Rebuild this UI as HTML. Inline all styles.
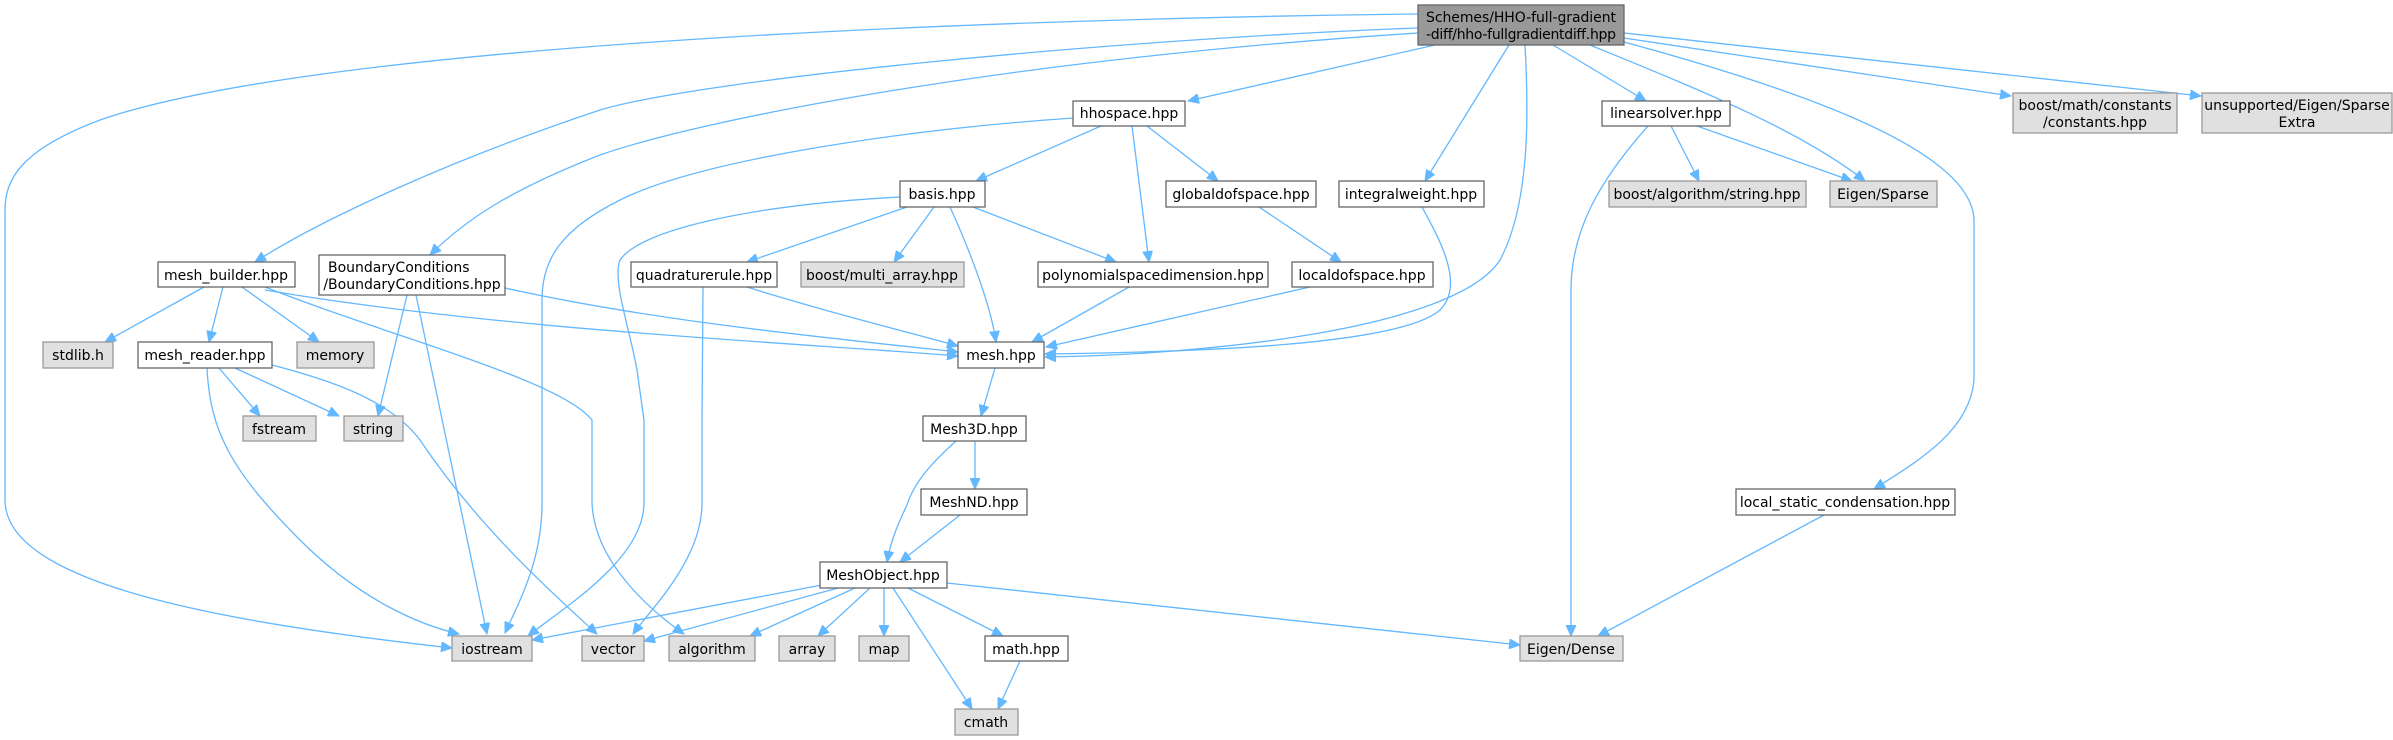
<!DOCTYPE html>
<html><head><meta charset="utf-8"><style>
html,body{margin:0;padding:0;background:#fff}
svg{display:block}
text{font-family:"DejaVu Sans","Liberation Sans",sans-serif;font-size:14px;fill:#000}
.e{fill:none;stroke:#63b8ff;stroke-width:1.3}
.w{fill:#fff;stroke:#666;stroke-width:1.3}
.g{fill:#e0e0e0;stroke:#999;stroke-width:1.3}
.r{fill:#999;stroke:#666;stroke-width:1.3}
</style></head><body>
<svg width="2393" height="740" viewBox="0 0 2393 740" xmlns="http://www.w3.org/2000/svg">
<defs><marker id="a" markerWidth="12" markerHeight="10" refX="11" refY="5" orient="auto" markerUnits="userSpaceOnUse"><path d="M0,0 L11,5 L0,10 z" fill="#63b8ff" stroke="#63b8ff"/></marker></defs>
<g class="edges" marker-end="url(#a)">
<path class="e" marker-end="url(#a)" d="M1418,14 C900,20 300,50 100,120 C20,150 5,180 5,210 L5,500 C5,580 200,620 452,648"/>
<path class="e" marker-end="url(#a)" d="M1418,28 C1100,40 700,80 600,110 C450,160 320,220 255,262"/>
<path class="e" marker-end="url(#a)" d="M1418,33 C1000,60 700,120 600,155 C510,190 465,220 430,255"/>
<path class="e" marker-end="url(#a)" d="M1073,118 C900,130 700,160 620,200 C560,230 542,260 542,300 L542,503 C542,560 520,600 505,633"/>
<path class="e" marker-end="url(#a)" d="M900,197 C750,205 640,230 620,260 C612,280 630,330 637,370 L644,420 L644,503 C644,560 560,610 528,636"/>
<path class="e" marker-end="url(#a)" d="M265,287 C400,340 560,380 592,420 L592,500 C592,560 650,610 684,634"/>
<path class="e" marker-end="url(#a)" d="M272,365 C330,380 390,400 420,440 C480,530 560,600 597,634"/>
<path class="e" marker-end="url(#a)" d="M207,368 C210,430 230,470 300,540 C360,600 420,625 459,634"/>
<path class="e" marker-end="url(#a)" d="M219,368 L260,416"/>
<path class="e" marker-end="url(#a)" d="M235,368 L339,416"/>
<path class="e" marker-end="url(#a)" d="M407,295 L378,416"/>
<path class="e" marker-end="url(#a)" d="M416,295 L487,634"/>
<path class="e" marker-end="url(#a)" d="M505,288 C650,320 800,335 958,352"/>
<path class="e" marker-end="url(#a)" d="M265,290 C500,330 800,343 958,356"/>
<path class="e" marker-end="url(#a)" d="M204,287 L105,342"/>
<path class="e" marker-end="url(#a)" d="M223,287 L209,342"/>
<path class="e" marker-end="url(#a)" d="M242,287 L319,342"/>
<path class="e" marker-end="url(#a)" d="M747,287 C820,310 900,330 958,346"/>
<path class="e" marker-end="url(#a)" d="M703,287 L702,420 L702,503 C702,560 650,610 633,634"/>
<path class="e" marker-end="url(#a)" d="M907,207 L747,262"/>
<path class="e" marker-end="url(#a)" d="M934,207 L894,262"/>
<path class="e" marker-end="url(#a)" d="M950,207 C965,240 990,300 996,342"/>
<path class="e" marker-end="url(#a)" d="M973,207 L1116,262"/>
<path class="e" marker-end="url(#a)" d="M1101,126 L976,181"/>
<path class="e" marker-end="url(#a)" d="M1132,126 L1149,262"/>
<path class="e" marker-end="url(#a)" d="M1147,126 L1218,181"/>
<path class="e" marker-end="url(#a)" d="M1259,207 L1341,262"/>
<path class="e" marker-end="url(#a)" d="M1129,287 L1032,342"/>
<path class="e" marker-end="url(#a)" d="M1310,287 L1046,347"/>
<path class="e" marker-end="url(#a)" d="M1422,207 C1440,240 1465,285 1440,310 C1400,345 1200,352 1045,354"/>
<path class="e" marker-end="url(#a)" d="M1525,45 C1528,100 1532,200 1500,260 C1455,330 1200,355 1045,357"/>
<path class="e" marker-end="url(#a)" d="M1435,45 L1188,101"/>
<path class="e" marker-end="url(#a)" d="M1509,45 L1425,181"/>
<path class="e" marker-end="url(#a)" d="M1553,45 L1646,101"/>
<path class="e" marker-end="url(#a)" d="M1590,45 C1700,90 1800,130 1865,181"/>
<path class="e" marker-end="url(#a)" d="M1697,126 L1852,181"/>
<path class="e" marker-end="url(#a)" d="M1671,126 L1699,181"/>
<path class="e" marker-end="url(#a)" d="M1648,126 C1600,180 1571,230 1571,290 L1571,636"/>
<path class="e" marker-end="url(#a)" d="M1624,42 C1800,90 1972,150 1974,220 L1974,380 C1970,430 1920,460 1874,489"/>
<path class="e" marker-end="url(#a)" d="M1624,38 L2011,96"/>
<path class="e" marker-end="url(#a)" d="M1624,33 L2201,96"/>
<path class="e" marker-end="url(#a)" d="M1824,515 L1598,636"/>
<path class="e" marker-end="url(#a)" d="M995,368 L981,416"/>
<path class="e" marker-end="url(#a)" d="M975,441 L975,489"/>
<path class="e" marker-end="url(#a)" d="M956,441 C935,460 915,480 907,505 C895,530 890,545 887,562"/>
<path class="e" marker-end="url(#a)" d="M960,515 L900,562"/>
<path class="e" marker-end="url(#a)" d="M822,585 L532,640"/>
<path class="e" marker-end="url(#a)" d="M838,588 L644,641"/>
<path class="e" marker-end="url(#a)" d="M855,588 L750,636"/>
<path class="e" marker-end="url(#a)" d="M870,588 L818,636"/>
<path class="e" marker-end="url(#a)" d="M884,588 L884,636"/>
<path class="e" marker-end="url(#a)" d="M893,588 L972,709"/>
<path class="e" marker-end="url(#a)" d="M908,588 L1003,636"/>
<path class="e" marker-end="url(#a)" d="M1020,661 L998,709"/>
<path class="e" marker-end="url(#a)" d="M947,583 L1520,645"/>
</g>
<g text-anchor="middle">
<rect class="r" x="1418" y="5" width="206" height="40"/><text x="1521" y="22" textLength="190">Schemes/HHO-full-gradient</text><text x="1521" y="39" textLength="190">-diff/hho-fullgradientdiff.hpp</text>
<rect class="w" x="1073" y="101" width="112" height="25"/><text x="1129" y="118">hhospace.hpp</text>
<rect class="w" x="1602" y="101" width="128" height="25"/><text x="1666" y="118">linearsolver.hpp</text>
<rect class="g" x="2013" y="93" width="164" height="40"/><text x="2095" y="110">boost/math/constants</text><text x="2095" y="127">/constants.hpp</text>
<rect class="g" x="2202" y="93" width="190" height="40"/><text x="2297" y="110">unsupported/Eigen/Sparse</text><text x="2297" y="127">Extra</text>
<rect class="w" x="900" y="181" width="85" height="26"/><text x="942" y="199">basis.hpp</text>
<rect class="w" x="1166" y="181" width="150" height="26"/><text x="1241" y="199">globaldofspace.hpp</text>
<rect class="w" x="1339" y="181" width="145" height="26"/><text x="1411" y="199">integralweight.hpp</text>
<rect class="g" x="1609" y="181" width="197" height="26"/><text x="1707" y="199">boost/algorithm/string.hpp</text>
<rect class="g" x="1830" y="181" width="107" height="26"/><text x="1883" y="199">Eigen/Sparse</text>
<rect class="w" x="158" y="262" width="137" height="25"/><text x="226" y="280">mesh_builder.hpp</text>
<rect class="w" x="319" y="255" width="186" height="40"/><text x="412" y="272" text-anchor="start" x-dummy="" dx="-84">BoundaryConditions</text><text x="412" y="289">/BoundaryConditions.hpp</text>
<rect class="w" x="631" y="262" width="146" height="25"/><text x="704" y="280">quadraturerule.hpp</text>
<rect class="g" x="801" y="262" width="163" height="25"/><text x="882" y="280">boost/multi_array.hpp</text>
<rect class="w" x="1038" y="262" width="230" height="25"/><text x="1153" y="280">polynomialspacedimension.hpp</text>
<rect class="w" x="1292" y="262" width="141" height="25"/><text x="1362" y="280">localdofspace.hpp</text>
<rect class="g" x="43" y="342" width="70" height="26"/><text x="78" y="360">stdlib.h</text>
<rect class="w" x="138" y="342" width="134" height="26"/><text x="205" y="360">mesh_reader.hpp</text>
<rect class="g" x="297" y="342" width="77" height="26"/><text x="335" y="360">memory</text>
<rect class="w" x="958" y="342" width="86" height="26"/><text x="1001" y="360">mesh.hpp</text>
<rect class="g" x="243" y="416" width="73" height="25"/><text x="279" y="434">fstream</text>
<rect class="g" x="344" y="416" width="59" height="25"/><text x="373" y="434">string</text>
<rect class="w" x="923" y="416" width="103" height="25"/><text x="974" y="434">Mesh3D.hpp</text>
<rect class="w" x="921" y="489" width="106" height="26"/><text x="974" y="507">MeshND.hpp</text>
<rect class="w" x="1736" y="489" width="219" height="26"/><text x="1845" y="507">local_static_condensation.hpp</text>
<rect class="w" x="820" y="562" width="127" height="26"/><text x="883" y="580">MeshObject.hpp</text>
<rect class="g" x="452" y="636" width="80" height="25"/><text x="492" y="654">iostream</text>
<rect class="g" x="582" y="636" width="62" height="25"/><text x="613" y="654">vector</text>
<rect class="g" x="669" y="636" width="86" height="25"/><text x="712" y="654">algorithm</text>
<rect class="g" x="779" y="636" width="56" height="25"/><text x="807" y="654">array</text>
<rect class="g" x="859" y="636" width="50" height="25"/><text x="884" y="654">map</text>
<rect class="w" x="985" y="636" width="83" height="25"/><text x="1026" y="654">math.hpp</text>
<rect class="g" x="1520" y="636" width="103" height="25"/><text x="1571" y="654">Eigen/Dense</text>
<rect class="g" x="955" y="709" width="63" height="26"/><text x="986" y="727">cmath</text>
</g>
</svg>
</body></html>
